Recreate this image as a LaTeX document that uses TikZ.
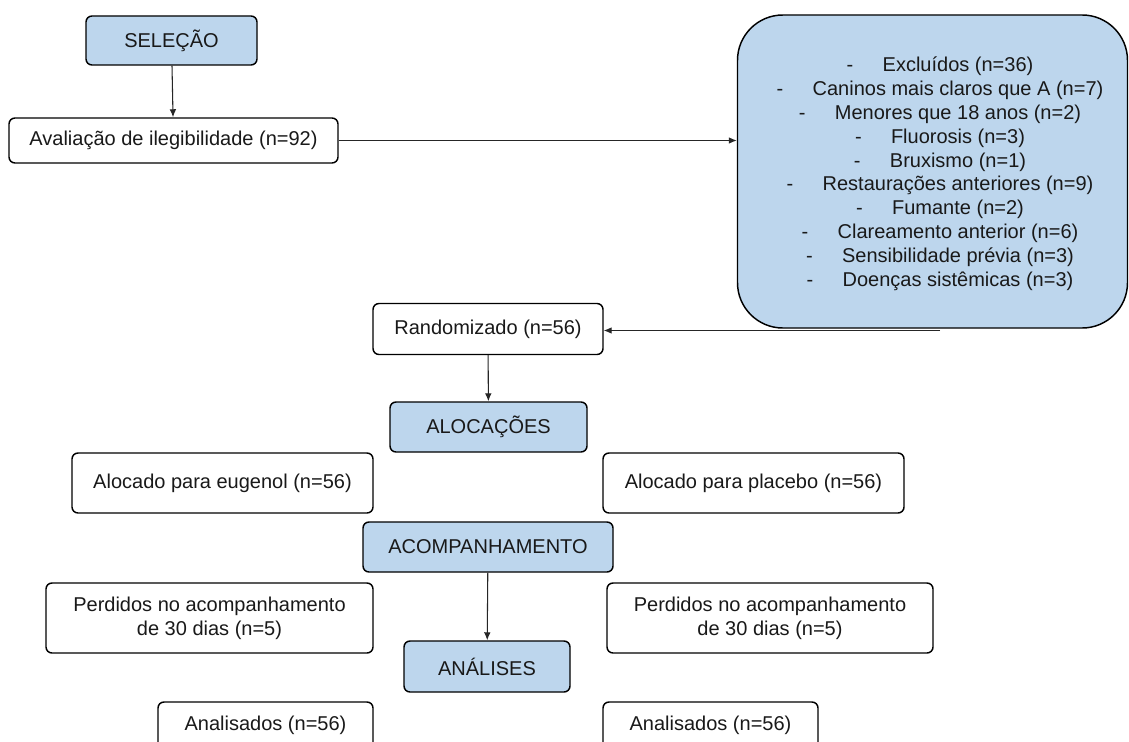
\documentclass[tikz,border=0pt]{standalone}
\usepackage{fontspec}
\setmainfont{Liberation Sans}
\usetikzlibrary{arrows.meta}
\definecolor{boxblue}{RGB}{189,214,237}
\definecolor{txt}{RGB}{25,25,25}
\tikzset{
  base/.style={draw=black, line width=1.1pt, rounded corners=4.5pt, inner sep=0pt,
    text=txt, font=\fontsize{15pt}{18pt}\selectfont, align=center},
  whitebox/.style={base, fill=white},
  bluebox/.style={base, fill=boxblue},
  conn/.style={draw=black!85, line width=0.8pt, -{Latex[length=6pt,width=5pt]}},
  sz/.style 2 args={minimum width=#1*0.75pt, minimum height=#2*0.75pt}
}
\newcommand{\dl}[2]{-\hspace{#1pt}#2}
\begin{document}
\begin{tikzpicture}[x=0.75pt,y=-0.75pt]
\useasboundingbox (0,0) rectangle (1129,742);
\clip (0,0) rectangle (1129,742);
\fill[white] (0,0) rectangle (1129,742);

\node[bluebox, sz={171}{49}] (sel) at (171.5,40.5) {SELEÇÃO};
\node[whitebox, sz={329}{45}] (aval) at (173.5,140.5) {Avaliação de ilegibilidade (n=92)};
\node[base, fill=boxblue, rounded corners=34pt, sz={390}{313}, font=\fontsize{15pt}{17.85pt}\selectfont] (excl) at (932.5,171.5) {};
\node[text=txt, font=\fontsize{15pt}{17.85pt}\selectfont, align=center, inner sep=0pt, anchor=north] (excltext) at (940,57) {%
\dl{22}{Excluídos (n=36)}\\
\dl{22}{Caninos mais claros que A (n=7)}\\
\dl{22}{Menores que 18 anos (n=2)}\\
\dl{22}{Fluorosis (n=3)}\\
\dl{22}{Bruxismo (n=1)}\\
\dl{22}{Restaurações anteriores (n=9)}\\
\dl{22}{Fumante (n=2)}\\
\dl{22}{Clareamento anterior (n=6)}\\
\dl{22}{Sensibilidade prévia (n=3)}\\
\dl{22}{Doenças sistêmicas (n=3)}};
\node[whitebox, sz={230}{51}] (rand) at (488,329) {Randomizado (n=56)};
\node[bluebox, sz={197}{50}] (aloc) at (488.5,427) {ALOCAÇÕES};
\node[whitebox, sz={301}{60}] (eug) at (222.5,483) {Alocado para eugenol (n=56)};
\node[whitebox, sz={301}{60}] (plac) at (753.5,483) {Alocado para placebo (n=56)};
\node[bluebox, sz={250}{50}] (acomp) at (488,547) {ACOMPANHAMENTO};
\node[whitebox, sz={327}{70}] (perdL) at (209.5,618) {Perdidos no acompanhamento\\de 30 dias (n=5)};
\node[whitebox, sz={326}{70}] (perdR) at (770,618) {Perdidos no acompanhamento\\de 30 dias (n=5)};
\node[bluebox, sz={166}{51}] (anal) at (487,666.5) {ANÁLISES};
\node[whitebox, sz={215}{60}] (analL) at (265.5,732) {};
\node[text=txt, font=\fontsize{15pt}{18pt}\selectfont, inner sep=0pt] (analLt) at (265.5,725) {Analisados (n=56)};
\node[whitebox, sz={215}{60}] (analR) at (710.5,732) {};
\node[text=txt, font=\fontsize{15pt}{18pt}\selectfont, inner sep=0pt] (analRt) at (710.5,725) {Analisados (n=56)};

\coordinate (exclout) at (940,330.5);

\draw[conn] (sel) -- (aval);
\draw[conn] (aval.east) -- (aval.east -| excl.west);
\draw[conn] (exclout) -- (exclout -| rand.east);
\draw[conn] (rand) -- (aloc);
\draw[conn] (acomp) -- (anal);
\end{tikzpicture}
\end{document}
